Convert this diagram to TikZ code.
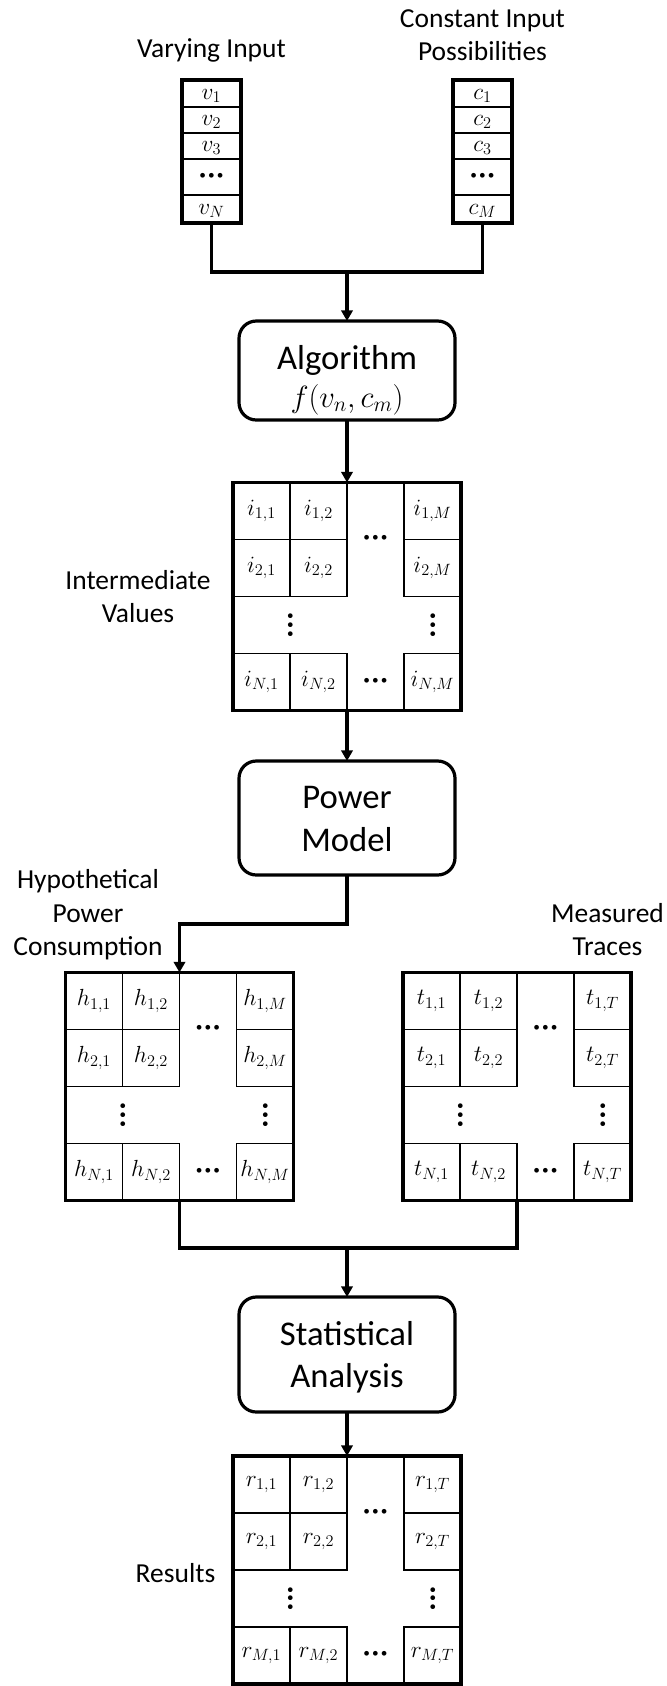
\RequirePackage{fix-cm}
\documentclass[tikz,border=0pt]{standalone}
\usepackage[no-math]{fontspec}
\setmainfont{Carlito}
\usetikzlibrary{arrows.meta}

% heavy three-dot ellipsis built from bullets
\newcommand\heavydots{\textbullet\kern0.16em\textbullet\kern0.16em\textbullet}

\tikzset{
  lbl/.style={font=\fontsize{20.6}{24}\selectfont, anchor=base, inner sep=0pt},
  boxtxt/.style={font=\fontsize{26}{30}\selectfont, anchor=base, inner sep=0pt},
  stepbox/.style={draw, line width=2.4pt, rounded corners=13pt, minimum width=162pt, inner sep=0pt, outer sep=0pt},
  mframe/.style={draw, line width=2.5pt, minimum width=171pt, minimum height=171pt, inner sep=0pt, outer sep=0pt},
  cell/.style={draw, line width=1.2pt, minimum size=42.75pt, inner sep=0pt, outer sep=0pt, font=\fontsize{17.5}{21}\selectfont},
  mdots/.style={inner sep=0pt, font=\fontsize{10}{12}\selectfont},
  vframe/.style={draw, line width=2.5pt, minimum width=44.25pt, minimum height=107.25pt, inner sep=0pt, outer sep=0pt},
  vtxt/.style={inner sep=0pt, font=\fontsize{17.5}{21}\selectfont},
  vdotstxt/.style={inner sep=0pt, font=\fontsize{10}{12}\selectfont},
  rowline/.style={line width=1.2pt},
  conn/.style={line width=2.4pt},
  arr/.style={conn, -{Triangle[width=8.5pt,length=8pt]}},
}

% 4x4 value grid: #1 name, #2/#3 centre, #4 letter, #5 last row index, #6 last column index
\newcommand\cellgrid[6]{%
  \foreach \ri/\rl/\dy in {1/1/-85.5, 2/2/-28.5, 4/#5/85.5}{%
    \foreach \ci/\cl/\dx in {1/1/-85.5, 2/2/-28.5, 4/#6/85.5}{%
      \node[cell] (#1-\ri-\ci) at ({#2+\dx},{#3+\dy}) {$#4_{\rl,\cl}$};
    }
  }
  \node[mdots] (#1-dh1) at ({#2+28.5},{#3-58}) {\heavydots};
  \node[mdots] (#1-dh2) at ({#2+28.5},{#3+84.5}) {\heavydots};
  \node[mdots, rotate=90] (#1-dv1) at ({#2-56},{#3+28.5}) {\heavydots};
  \node[mdots, rotate=90] (#1-dv2) at ({#2+86.5},{#3+28.5}) {\heavydots};
  \node[mframe] (#1) at (#2,#3) {};
}

% input column: #1 name, #2 centre x, #3 letter, #4 last index
\newcommand\inputcol[4]{%
  \foreach \yy in {107,133,159,195}{\draw[rowline] ({#2-29.5},\yy) -- ({#2+29.5},\yy);}
  \node[vtxt] (#1-1) at (#2,96) {$#3_1$};
  \node[vtxt] (#1-2) at (#2,122) {$#3_2$};
  \node[vtxt] (#1-3) at (#2,148) {$#3_3$};
  \node[vdotstxt] (#1-d) at (#2,176) {\heavydots};
  \node[vtxt] (#1-n) at (#2,211) {$#3_{#4}$};
  \node[vframe] (#1) at (#2,151.5) {};
}

\begin{document}
\begin{tikzpicture}[x=0.75pt, y=-0.75pt]
\useasboundingbox (0,0) rectangle (667,1686);

% inputs
\node[lbl] (lvary) at (211.5,57) {Varying Input};
\node[lbl] (lconsta) at (482.5,27) {Constant Input};
\node[lbl] (lconstb) at (482.5,60) {Possibilities};
\inputcol{vin}{211.5}{v}{N}
\inputcol{cin}{482.5}{c}{M}

% algorithm
\node[stepbox, minimum height=74.25pt] (alg) at (347,370.5) {};
\node[boxtxt] (algt) at (347,369) {Algorithm};
\node[anchor=base, inner sep=0pt, font=\fontsize{23}{28}\selectfont] (algf) at (347,407) {$f(v_n,c_m)$};

\coordinate (jin) at (347,272);
\draw[conn] (vin.south) |- (jin) -| (cin.south);
\draw[arr] (jin) -- (alg.north);

% intermediate values
\cellgrid{im}{347}{596.5}{i}{N}{M}
\node[lbl] (lima) at (138,589) {Intermediate};
\node[lbl] (limb) at (138,622) {Values};
\draw[arr] (alg.south) -- (im.north);

% power model
\node[stepbox, minimum height=85.5pt] (pm) at (347,818) {};
\node[boxtxt] (pmt) at (347,808) {Power};
\node[boxtxt] (pmb) at (347,851) {Model};
\draw[arr] (im.south) -- (pm.north);

% hypothetical power and measured traces
\cellgrid{hm}{179.5}{1086.5}{h}{N}{M}
\cellgrid{tm}{517}{1086.5}{t}{N}{T}
\node[lbl] (lhypa) at (88,888) {Hypothetical};
\node[lbl] (lhypb) at (88,922) {Power};
\node[lbl] (lhypc) at (88,955) {Consumption};
\node[lbl] (lmeaa) at (607.5,922) {Measured};
\node[lbl] (lmeab) at (607.5,955) {Traces};
\draw[arr] (pm.south) -- ++(0,49) -| (hm.north);

% statistical analysis
\node[stepbox, minimum height=86.25pt] (sa) at (347,1354.5) {};
\node[boxtxt] (sat) at (347,1345) {Statistical};
\node[boxtxt] (sab) at (347,1387) {Analysis};
\coordinate (jout) at (347,1248);
\draw[conn] (hm.south) |- (jout) -| (tm.south);
\draw[arr] (jout) -- (sa.north);

% results
\cellgrid{rm}{347}{1570}{r}{M}{T}
\node[lbl] (lres) at (175.5,1582) {Results};
\draw[arr] (sa.south) -- (rm.north);
\end{tikzpicture}
\end{document}
